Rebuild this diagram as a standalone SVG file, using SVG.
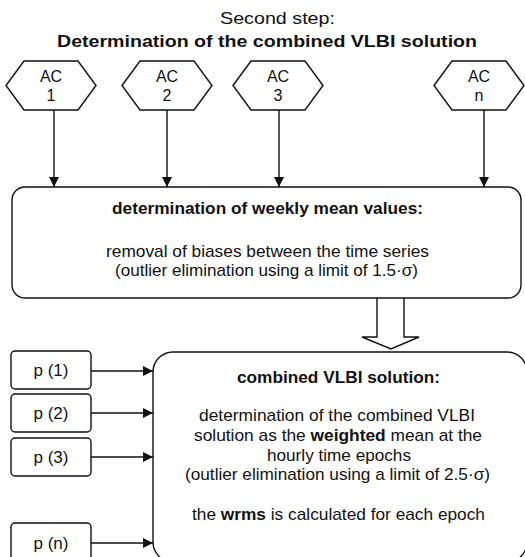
<svg xmlns="http://www.w3.org/2000/svg" width="525" height="557" viewBox="0 0 525 557">
<style>
text{font-family:"Liberation Sans",Arial,sans-serif;fill:#111;font-size:17px}
.b{font-weight:bold}
.m{text-anchor:middle}
.ac{font-size:16px}
.shape{fill:#fff;stroke:#111;stroke-width:1.4}
.conn{stroke:#111;stroke-width:1.4;fill:none}
</style>
<defs>
<marker id="ah" viewBox="0 0 10 10" refX="10" refY="5" markerWidth="11" markerHeight="10" markerUnits="userSpaceOnUse" orient="auto">
<path d="M0,0 L10,5 L0,10 z" fill="#111"/>
</marker>
</defs>
<rect width="525" height="557" fill="#fff"/>
<g id="title">
<text x="277.5" y="24" class="m" textLength="115" lengthAdjust="spacingAndGlyphs">Second step:</text>
<text x="267" y="46.5" class="m b" textLength="420" lengthAdjust="spacingAndGlyphs">Determination of the combined VLBI solution</text>
</g>
<g id="connectors">
<line class="conn" x1="54" y1="110" x2="54" y2="187" marker-end="url(#ah)"/>
<line class="conn" x1="167" y1="110" x2="167" y2="187" marker-end="url(#ah)"/>
<line class="conn" x1="279" y1="110" x2="279" y2="187" marker-end="url(#ah)"/>
<line class="conn" x1="484" y1="110" x2="484" y2="187" marker-end="url(#ah)"/>
<line class="conn" x1="91" y1="371" x2="153" y2="371" marker-end="url(#ah)"/>
<line class="conn" x1="91" y1="413" x2="153" y2="413" marker-end="url(#ah)"/>
<line class="conn" x1="91" y1="457" x2="153" y2="457" marker-end="url(#ah)"/>
<line class="conn" x1="91" y1="543" x2="153" y2="543" marker-end="url(#ah)"/>
<path class="shape" d="M377,298 L377,337 L362,337 L391,349 L419,337 L404,337 L404,298"/>
</g>
<g id="ac1">
<polygon class="shape" points="6,85.5 24,61 78,61 96,85.5 78,110 24,110"/>
<text x="51" y="82" class="m ac">AC</text>
<text x="51" y="101" class="m ac">1</text>
</g>
<g id="ac2">
<polygon class="shape" points="122,85.5 140,61 194,61 212,85.5 194,110 140,110"/>
<text x="167" y="82" class="m ac">AC</text>
<text x="167" y="101" class="m ac">2</text>
</g>
<g id="ac3">
<polygon class="shape" points="233,85.5 251,61 305,61 323,85.5 305,110 251,110"/>
<text x="278" y="82" class="m ac">AC</text>
<text x="278" y="101" class="m ac">3</text>
</g>
<g id="acn">
<polygon class="shape" points="434,85.5 452,61 506,61 524,85.5 506,110 452,110"/>
<text x="479" y="82" class="m ac">AC</text>
<text x="479" y="101" class="m ac">n</text>
</g>
<g id="weekly">
<rect class="shape" x="12" y="187" width="509" height="111" rx="13"/>
<text x="267.5" y="214" class="m b" font-size="16" textLength="311" lengthAdjust="spacingAndGlyphs">determination of weekly mean values:</text>
<text x="267.5" y="257" class="m" textLength="323" lengthAdjust="spacingAndGlyphs">removal of biases between the time series</text>
<text x="266.5" y="276" class="m" textLength="303" lengthAdjust="spacingAndGlyphs">(outlier elimination using a limit of 1.5·σ)</text>
</g>
<g id="p1">
<rect class="shape" x="11" y="351" width="80" height="38" rx="4"/>
<text x="51" y="376" class="m">p (1)</text>
</g>
<g id="p2">
<rect class="shape" x="11" y="394" width="80" height="38" rx="4"/>
<text x="51" y="419" class="m">p (2)</text>
</g>
<g id="p3">
<rect class="shape" x="11" y="438" width="80" height="38" rx="4"/>
<text x="51" y="463" class="m">p (3)</text>
</g>
<g id="pn">
<rect class="shape" x="11" y="523" width="80" height="40" rx="4"/>
<text x="51" y="549" class="m">p (n)</text>
</g>
<g id="combined">
<rect class="shape" x="153" y="352" width="374" height="210" rx="20"/>
<text x="338.5" y="383" class="m b" font-size="16" textLength="203" lengthAdjust="spacingAndGlyphs">combined VLBI solution:</text>
<text x="337" y="421" class="m" textLength="276" lengthAdjust="spacingAndGlyphs">determination of the combined VLBI</text>
<text x="338" y="441" class="m" textLength="288" lengthAdjust="spacingAndGlyphs">solution as the <tspan class="b">weighted</tspan> mean at the</text>
<text x="339" y="461" class="m" textLength="144" lengthAdjust="spacingAndGlyphs">hourly time epochs</text>
<text x="337.5" y="480" class="m" textLength="305" lengthAdjust="spacingAndGlyphs">(outlier elimination using a limit of 2.5·σ)</text>
<text x="338.5" y="520" class="m" textLength="293" lengthAdjust="spacingAndGlyphs">the <tspan class="b">wrms</tspan> is calculated for each epoch</text>
</g>
</svg>
